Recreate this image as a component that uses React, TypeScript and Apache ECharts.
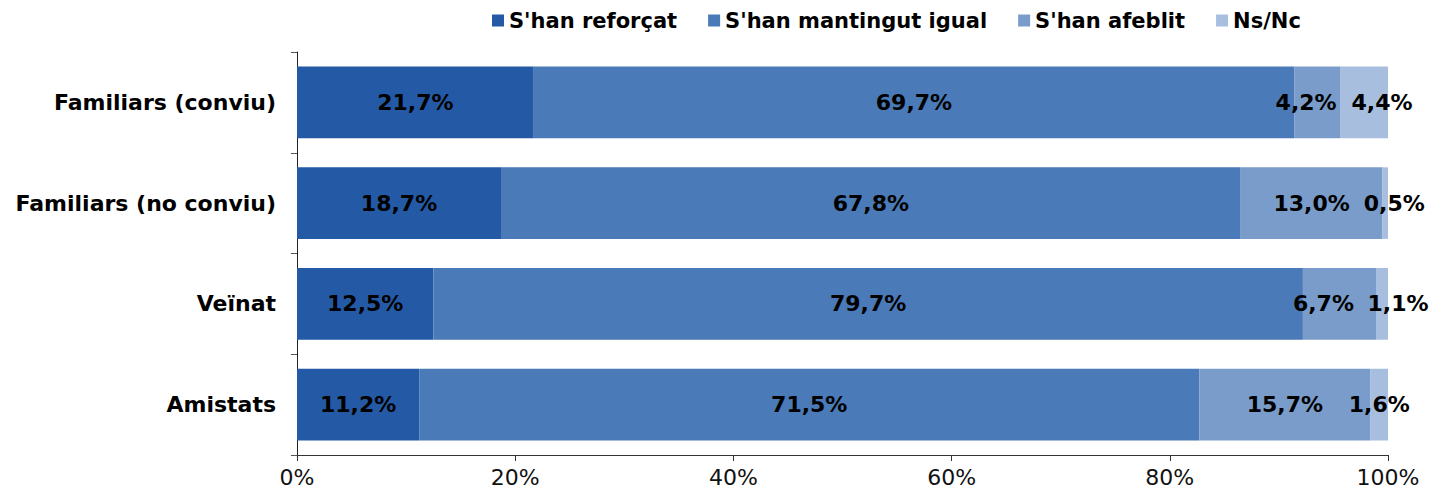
import React, { useEffect, useRef } from "react";
import * as echarts from "echarts";

const categories = ["Familiars (conviu)", "Familiars (no conviu)", "Veïnat", "Amistats"];
const seriesNames = ["S'han reforçat", "S'han mantingut igual", "S'han afeblit", "Ns/Nc"];
const reforcat = [21.7, 18.7, 12.5, 11.2];
const mantingut = [69.7, 67.8, 79.7, 71.5];
const afeblit = [4.2, 13.0, 6.7, 15.7];
const nsnc = [4.4, 0.5, 1.1, 1.6];
const xTicks = [0, 20, 40, 60, 80, 100];

const colors = ["#245AA5", "#4A7AB7", "#7A9CCA", "#A7BEDE"];
// label nudges (px) to avoid overlapping labels in narrow segments: [seriesIdx][catIdx]
const nudges: number[][] = [
  [0, 0, 0, 0],
  [0, 0, 0, 0],
  [-11, 0, -16, 0],
  [18, 9, 16, 0],
];

const FONT = "'DejaVu Sans', Verdana, sans-serif";

export default function App() {
  const ref = useRef<HTMLDivElement>(null);
  useEffect(() => {
    document.body.style.margin = "0";
    const chart = echarts.init(ref.current!, null, { renderer: "svg" });
    const allData = [reforcat, mantingut, afeblit, nsnc];
    const option: any = {
      animation: false,
      textStyle: { fontFamily: FONT },
      legend: {
        top: 5,
        left: 487,
        itemWidth: 12,
        itemHeight: 12,
        itemGap: 31,
        icon: "rect",
        textStyle: { fontFamily: FONT, fontWeight: "bold", fontSize: 21, color: "#000" },
        data: seriesNames,
      },
      grid: { left: 297, right: 45, top: 52, bottom: 41, containLabel: false },
      xAxis: {
        type: "value",
        min: xTicks[0],
        max: xTicks[xTicks.length - 1],
        interval: 20,
        axisLine: { show: true, lineStyle: { color: "#333", width: 1 } },
        axisTick: { show: true, length: 6, lineStyle: { color: "#333" } },
        splitLine: { show: false },
        axisLabel: {
          formatter: "{value}%",
          fontFamily: FONT,
          fontSize: 22,
          color: "#111",
          margin: 11,
        },
      },
      yAxis: {
        type: "category",
        data: categories,
        inverse: true,
        axisLine: { show: true, lineStyle: { color: "#222", width: 1 } },
        axisTick: { show: true, length: 6, alignWithLabel: false, lineStyle: { color: "#555" } },
        axisLabel: {
          fontFamily: FONT,
          fontWeight: "bold",
          fontSize: 22,
          color: "#000",
          margin: 21,
        },
      },
      series: seriesNames.map((name, si) => ({
        name,
        type: "bar",
        stack: "total",
        barCategoryGap: "29%",
        itemStyle: { color: colors[si] },
        data: allData[si].map((v, ci) => ({
          value: v,
          label: {
            show: true,
            position: "inside",
            offset: [nudges[si][ci], 0],
            formatter: () => v.toFixed(1).replace(".", ",") + "%",
            fontFamily: FONT,
            fontWeight: "bold",
            fontSize: 22,
            color: "#000",
          },
        })),
      })),
    };
    chart.setOption(option);
    return () => chart.dispose();
  }, []);
  return <div ref={ref} style={{ width: 1433, height: 496 }} />;
}
